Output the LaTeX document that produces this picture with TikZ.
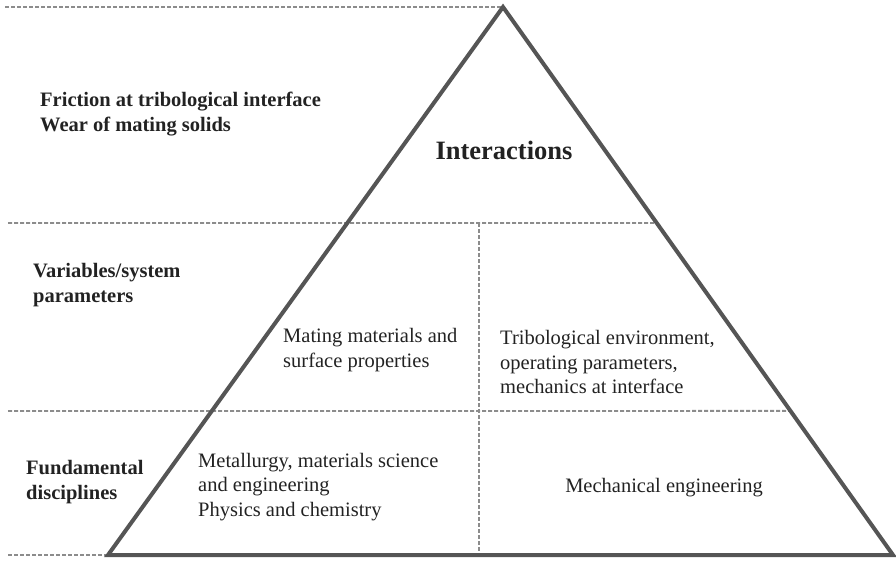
\documentclass[tikz,border=0pt]{standalone}
\usepackage{fontspec}
\setmainfont{Liberation Serif}
\usetikzlibrary{calc}
\definecolor{tri}{HTML}{555555}
\definecolor{dash}{HTML}{8C8C8C}
\definecolor{ink}{HTML}{222222}
\tikzset{
  guide/.style={draw=dash, line width=1.8pt, dash pattern=on 4pt off 2pt},
  triline/.style={draw=tri, line width=4pt, line join=miter},
  lbl/.style={inner sep=0pt, text=ink, align=left, anchor=west, font=\fontsize{20.5}{24.5}\selectfont},
  blbl/.style={lbl, font=\fontsize{20.5}{24.5}\selectfont\bfseries},
}
\begin{document}
\begin{tikzpicture}[x=1pt, y=-1pt]
\useasboundingbox (0,0) rectangle (896,560);
\coordinate (A) at (503,7);
\coordinate (BL) at (108,555);
\coordinate (BR) at (893,555);
\coordinate (L1) at ($(A)!0.394!(BL)$);
\coordinate (R1) at ($(A)!0.394!(BR)$);
\coordinate (L2) at ($(A)!0.737!(BL)$);
\coordinate (R2) at ($(A)!0.737!(BR)$);
\coordinate (G0) at (5,7);
\coordinate (G1) at (8,223);
\coordinate (G2) at (8,411);
\coordinate (G3) at (8,555);
\coordinate (VT) at (479,223);
\coordinate (VB) at (479,555);
% guides
\draw[guide] (G0) -- (A);
\draw[guide] (G1) -- (R1);
\draw[guide] (G2) -- (R2);
\draw[guide] (G3) -- (BL);
\draw[guide] (VT) -- (VB);
% triangle
\draw[triline] (A) -- (BR) -- (BL) -- cycle;
% labels
\node[blbl] (fric) at (40,114) {Friction at tribological interface\\Wear of mating solids};
\node[inner sep=0pt, text=ink, font=\fontsize{26.5}{30}\selectfont\bfseries] (inter) at (504,150) {Interactions};
\node[blbl] (vars) at (33,285) {Variables/system\\parameters};
\node[lbl] (mat) at (283,350) {Mating materials and\\surface properties};
\node[lbl] (trib) at (500,362) {Tribological environment,\\operating parameters,\\mechanics at interface};
\node[blbl] (fund) at (26,482) {Fundamental\\disciplines};
\node[lbl] (metal) at (198,487) {Metallurgy, materials science\\and engineering\\Physics and chemistry};
\node[lbl, anchor=center] (mech) at (664,488) {Mechanical engineering};
\end{tikzpicture}
\end{document}
